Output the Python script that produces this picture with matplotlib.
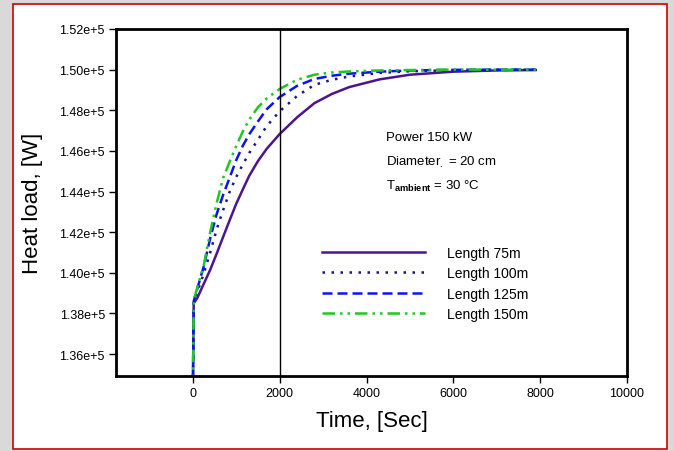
import matplotlib
matplotlib.use("Agg")
import matplotlib.pyplot as plt
from matplotlib.patches import Rectangle

plt.rcParams['font.family'] = ['Liberation Sans', 'DejaVu Sans']
plt.rcParams['mathtext.fontset'] = 'custom'
plt.rcParams['mathtext.rm'] = 'Liberation Sans'
plt.rcParams['mathtext.it'] = 'Liberation Sans'
plt.rcParams['mathtext.bf'] = 'Liberation Sans:bold'

# ---- data ----
time_s = [0, 20, 100, 250, 400, 550, 700, 850, 1000, 1150, 1300, 1500, 1700,
          2000, 2400, 2800, 3200, 3600, 4300, 5000, 6000, 7000, 7900]
load_75 = [1.340e5, 1.3850e5, 1.3875e5, 1.3945e5, 1.4015e5, 1.4095e5, 1.4178e5,
           1.4260e5, 1.4340e5, 1.4410e5, 1.4478e5, 1.4550e5, 1.4610e5, 1.4683e5,
           1.4765e5, 1.4835e5, 1.4880e5, 1.4914e5, 1.4952e5, 1.4975e5, 1.4990e5,
           1.4996e5, 1.4998e5]
load_100 = [1.340e5, 1.3855e5, 1.3905e5, 1.3995e5, 1.4100e5, 1.4215e5, 1.4310e5,
            1.4400e5, 1.4472e5, 1.4533e5, 1.4590e5, 1.4655e5, 1.4722e5, 1.4795e5,
            1.4870e5, 1.4925e5, 1.4950e5, 1.4966e5, 1.4984e5, 1.4992e5, 1.4997e5,
            1.4999e5, 1.5000e5]
load_125 = [1.340e5, 1.3860e5, 1.3920e5, 1.4030e5, 1.4170e5, 1.4290e5, 1.4385e5,
            1.4470e5, 1.4555e5, 1.4625e5, 1.4682e5, 1.4745e5, 1.4805e5, 1.4865e5,
            1.4920e5, 1.4954e5, 1.4970e5, 1.4980e5, 1.4990e5, 1.4996e5, 1.4999e5,
            1.5000e5, 1.5000e5]
load_150 = [1.340e5, 1.3865e5, 1.3925e5, 1.4035e5, 1.4200e5, 1.4345e5, 1.4468e5,
            1.4548e5, 1.4625e5, 1.4695e5, 1.4755e5, 1.4815e5, 1.4858e5, 1.4905e5,
            1.4950e5, 1.4975e5, 1.4986e5, 1.4991e5, 1.4996e5, 1.4998e5, 1.5000e5,
            1.5000e5, 1.5000e5]
series_labels = ['Length 75m', 'Length 100m', 'Length 125m', 'Length 150m']
x_ticks = [0, 2000, 4000, 6000, 8000, 10000]
y_ticks = [1.36e5, 1.38e5, 1.40e5, 1.42e5, 1.44e5, 1.46e5, 1.48e5, 1.50e5, 1.52e5]
y_tick_labels = ['1.36e+5', '1.38e+5', '1.40e+5', '1.42e+5', '1.44e+5',
                 '1.46e+5', '1.48e+5', '1.50e+5', '1.52e+5']
marker_time = 2000

W, H = 674, 452
fig = plt.figure(figsize=(W / 100, H / 100), dpi=100)
fig.patch.set_facecolor('#d9d9d9')
frame = Rectangle((13 / W, 1 - 450 / H), (667 - 13) / W, (450 - 5) / H,
                  transform=fig.transFigure, facecolor='white',
                  edgecolor='#cc0000', linewidth=1.2, zorder=-10)
fig.patches.append(frame)

ax = fig.add_axes([116 / W, 1 - 377 / H, (627 - 116) / W, (377 - 30) / H])
ax.set_zorder(1)
ax.set_facecolor('white')

lw = 1.8
ax.plot(time_s, load_75, color='#4b1490', lw=lw, ls='-', label=series_labels[0])
ax.plot(time_s, load_100, color='#141496', lw=lw, ls=(0, (1, 2.6)), label=series_labels[1])
ax.plot(time_s, load_125, color='#0a14f0', lw=lw, ls=(0, (4, 2)), label=series_labels[2])
ax.plot(time_s, load_150, color='#1ec81e', lw=lw, ls=(0, (5, 2, 1, 2, 1, 2)), label=series_labels[3])

ax.axvline(marker_time, color='black', lw=1.0)

ax.set_xlim(-1770, 10000)
ax.set_ylim(1.3492e5, 1.52e5)
ax.set_xticks(x_ticks)
ax.set_xticklabels([str(v) for v in x_ticks])
ax.set_yticks(y_ticks)
ax.set_yticklabels(y_tick_labels)
ax.tick_params(direction='out', length=5, width=1, labelsize=9, pad=3)
for s in ax.spines.values():
    s.set_linewidth(2)

ax.set_xlabel('Time, [Sec]', fontsize=16, labelpad=8)
ax.set_ylabel('Heat load, [W]', fontsize=16, labelpad=12)

tx = 386 / W
fig.text(tx, 1 - 138 / H, 'Power 150 kW', fontsize=9.5, va='center', ha='left', zorder=5)
fig.text(tx, 1 - 162 / H, r'Diameter$_{.}$ = 20 cm', fontsize=9.5, va='center', ha='left', zorder=5)
fig.text(tx, 1 - 186 / H, r'T$_{\mathbf{ambient}}$ = 30 °C', fontsize=9.5, va='center', ha='left', zorder=5)

leg = ax.legend(loc='upper left', bbox_to_anchor=(322 / W, 1 - 247 / H),
                bbox_transform=fig.transFigure, frameon=False, fontsize=10,
                handlelength=7.4, handletextpad=1.6, labelspacing=0.45,
                borderpad=0, borderaxespad=0)

fig.savefig('out.png', dpi=100, facecolor=fig.get_facecolor())
